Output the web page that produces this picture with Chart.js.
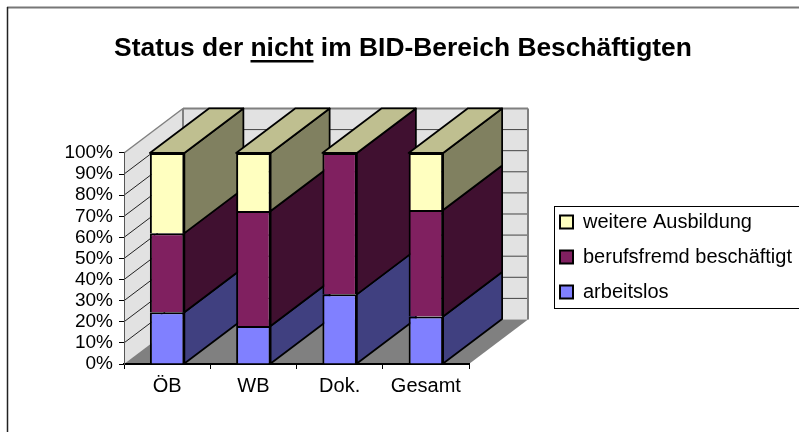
<!DOCTYPE html>
<html lang="de">
<head>
<meta charset="utf-8">
<title>Status der nicht im BID-Bereich Beschäftigten</title>
<script src="https://cdn.jsdelivr.net/npm/chart.js@4"></script>
<style>
    html, body { margin: 0; padding: 0; background: #fff; overflow: hidden; }
    canvas { display: block; }
</style>
</head>
<body>
<canvas id="grafico" width="799" height="432"></canvas>
<script>
// ------------------ DADOS ------------------
const titulo = "Status der nicht im BID-Bereich Beschäftigten";
const categorias = ["ÖB", "WB", "Dok.", "Gesamt"];
const arbeitslos = [24.5, 18, 33, 22.5];
const berufsfremd = [37.5, 54.5, 67, 50.5];
const weitere = [38, 27.5, 0, 27];

const corFrente = ["#8080ff", "#802060", "#ffffc0"];
const corLado = ["#404080", "#401030", "#808060"];
const corTopo = "#bfbf90";

const fonte = "'Liberation Sans', Arial, sans-serif";
const tamTitulo = 26.4;
const profX = 59;
const profY = 44.5;

function poligono(ctx, pts, fill, stroke, lw) {
    ctx.beginPath();
    pts.forEach((p, i) => i ? ctx.lineTo(p[0], p[1]) : ctx.moveTo(p[0], p[1]));
    ctx.closePath();
    if(fill) { ctx.fillStyle = fill; ctx.fill(); }
    if(stroke) { ctx.strokeStyle = stroke; ctx.lineWidth = lw; ctx.lineJoin = "round"; ctx.stroke(); }
}

function linha(ctx, x1, y1, x2, y2, cor, lw) {
    ctx.beginPath();
    ctx.moveTo(x1, y1);
    ctx.lineTo(x2, y2);
    ctx.strokeStyle = cor;
    ctx.lineWidth = lw;
    ctx.stroke();
}

// paredes, chão, caixa da legenda, barras em 3D e sublinhado do título
const efeito3d = {
    id: "efeito3d",
    afterLayout(chart) {
        // o Chart.js não deixa posicionar a legenda e o título livremente
        const leg = chart.legend;
        leg.left = 545;
        leg.right = 799;
        leg.width = 254;
        leg.top += 41;
        leg.bottom += 41;
        chart.titleBlock.left = 7;
        chart.titleBlock.right = 799;
    },
    beforeDraw(chart) {
        const ctx = chart.ctx;
        const { left, right, top, bottom } = chart.chartArea;
        ctx.save();

        // moldura (só aparece em cima e à esquerda)
        linha(ctx, 7, 7.5, 799, 7.5, "#777", 2);
        linha(ctx, 7.5, 7, 7.5, 432, "#222", 1.5);

        // parede esquerda, fundo e chão
        poligono(ctx, [[left, top], [left + profX, top - profY], [left + profX, bottom - profY], [left, bottom]], "#e2e2e2");
        poligono(ctx, [[left + profX, top - profY], [right + profX, top - profY], [right + profX, bottom - profY], [left + profX, bottom - profY]], "#e2e2e2");
        poligono(ctx, [[left, bottom], [left + profX, bottom - profY], [right + profX, bottom - profY], [right, bottom]], "#808080");

        chart.scales.y.ticks.forEach(t => {
            const y = chart.scales.y.getPixelForValue(t.value);
            if(t.value > 0 && t.value < 100) {
                linha(ctx, left, y, left + profX, y - profY, "#222", 1);
                linha(ctx, left + profX, y - profY, right + profX, y - profY, "#444", 1);
            }
        });

        linha(ctx, left, top, left + profX, top - profY, "#808080", 1.5);
        linha(ctx, left + profX, top - profY, right + profX, top - profY, "#808080", 2);
        linha(ctx, left + profX, top - profY, left + profX, bottom - profY, "#808080", 2);
        linha(ctx, right + profX, top - profY, right + profX, bottom - profY, "#808080", 2);
        ctx.restore();
    },
    beforeDatasetsDraw(chart) {
        const ctx = chart.ctx;
        ctx.save();
        chart.data.datasets.forEach((ds, i) => {
            chart.getDatasetMeta(i).data.forEach(bar => {
                const xd = bar.x + bar.width / 2;
                if(bar.base - bar.y > 0) {
                    poligono(ctx, [[xd, bar.y], [xd + profX, bar.y - profY], [xd + profX, bar.base - profY], [xd, bar.base]], corLado[i], "#000", 1.75);
                }
                if(i === chart.data.datasets.length - 1) {
                    const xe = bar.x - bar.width / 2;
                    poligono(ctx, [[xe, bar.y], [xe + profX, bar.y - profY], [xd + profX, bar.y - profY], [xd, bar.y]], corTopo, "#000", 1.75);
                }
            });
        });
        ctx.restore();
    },
    afterDraw(chart) {
        const ctx = chart.ctx;
        ctx.save();

        // caixa da legenda
        ctx.strokeStyle = "#000";
        ctx.lineWidth = 1;
        ctx.strokeRect(554.5, 206.5, 250, 102);

        // sublinhado de "nicht" no título
        const bloco = chart.titleBlock;
        ctx.font = "bold " + tamTitulo + "px " + fonte;
        const total = ctx.measureText(titulo).width;
        const inicio = (bloco.left + bloco.right) / 2 - total / 2 + ctx.measureText("Status der ").width;
        const largura = ctx.measureText("nicht").width;
        linha(ctx, inicio, 61.2, inicio + largura, 61.2, "#000", 2.5);
        ctx.restore();
    }
};

new Chart(document.getElementById("grafico"), {
    type: "bar",
    data: {
        labels: categorias,
        datasets: [
            { label: "arbeitslos", data: arbeitslos, backgroundColor: corFrente[0] },
            { label: "berufsfremd beschäftigt", data: berufsfremd, backgroundColor: corFrente[1] },
            { label: "weitere Ausbildung", data: weitere, backgroundColor: corFrente[2] }
        ].map(ds => ({ ...ds, borderColor: "#000", borderWidth: 2, borderSkipped: "bottom", barPercentage: 0.4, categoryPercentage: 1 }))
    },
    options: {
        responsive: false,
        animation: false,
        color: "#000",
        layout: { padding: { left: 0, right: 85, top: 0, bottom: 0 } },
        plugins: {
            title: {
                display: true,
                text: titulo,
                color: "#000",
                font: { family: fonte, size: tamTitulo, weight: "bold", lineHeight: 1.2 },
                padding: { top: 32.4, bottom: 88.9 }
            },
            legend: {
                position: "right",
                reverse: true,
                maxWidth: 245,
                labels: {
                    color: "#000",
                    boxWidth: 13,
                    boxHeight: 13,
                    padding: 15,
                    font: { family: fonte, size: 20 }
                }
            },
            tooltip: { enabled: false }
        },
        scales: {
            x: {
                stacked: true,
                afterFit(scale) { scale.height = 68; },
                grid: { drawOnChartArea: false, drawTicks: true, tickLength: 5, color: "#000", lineWidth: 1 },
                border: { color: "#000", width: 2 },
                ticks: { color: "#000", padding: 5, autoSkip: false, maxRotation: 0, font: { family: fonte, size: 20 } }
            },
            y: {
                stacked: true,
                min: 0,
                max: 100,
                afterFit(scale) { scale.width = 124; },
                grid: { drawOnChartArea: false, drawTicks: true, tickLength: 5, color: "#000", lineWidth: 1 },
                border: { color: "#555", width: 1 },
                ticks: {
                    color: "#000",
                    padding: 6,
                    stepSize: 10,
                    autoSkip: false,
                    callback: v => v + "%",
                    font: { family: fonte, size: 19 }
                }
            }
        }
    },
    plugins: [efeito3d]
});
</script>
</body>
</html>
